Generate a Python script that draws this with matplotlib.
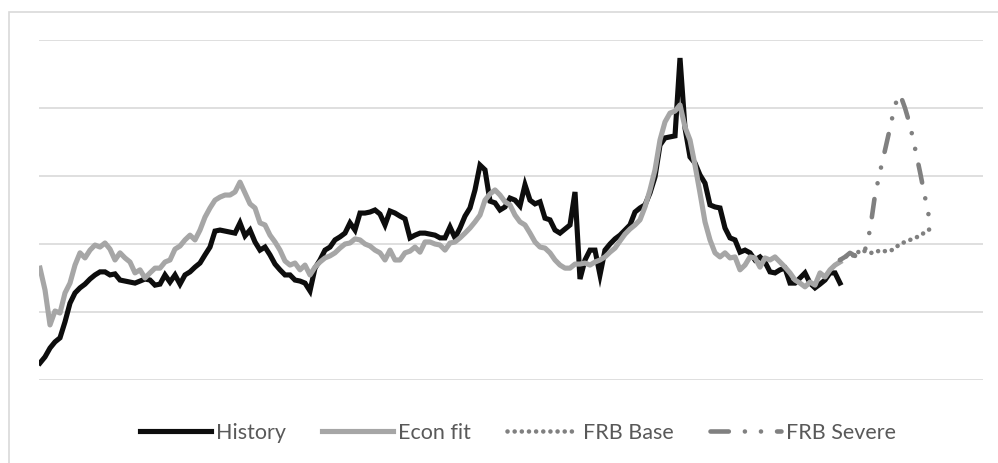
import numpy as np
import matplotlib
matplotlib.use("Agg")
import matplotlib.pyplot as plt
from matplotlib.patches import Rectangle

# History and model fit, one value per period
history = [
    0.50, 0.68, 0.94, 1.12, 1.24, 1.71, 2.26, 2.56, 2.71, 2.82,
    2.97, 3.09, 3.18, 3.18, 3.09, 3.12, 2.94, 2.91, 2.88, 2.85,
    2.91, 2.97, 2.94, 2.79, 2.82, 3.09, 2.88, 3.09, 2.82, 3.09,
    3.18, 3.32, 3.44, 3.68, 3.91, 4.38, 4.41, 4.38, 4.35, 4.32,
    4.62, 4.24, 4.41, 4.06, 3.82, 3.91, 3.68, 3.41, 3.24, 3.09,
    3.09, 2.94, 2.91, 2.85, 2.62, 3.29, 3.53, 3.82, 3.91, 4.12,
    4.21, 4.32, 4.62, 4.41, 4.91, 4.91, 4.94, 5.00, 4.88, 4.56,
    4.97, 4.91, 4.82, 4.74, 4.18, 4.26, 4.32, 4.32, 4.29, 4.26,
    4.18, 4.18, 4.50, 4.18, 4.47, 4.82, 5.06, 5.59, 6.32, 6.18,
    5.26, 5.21, 5.00, 5.09, 5.35, 5.29, 5.12, 5.74, 5.29, 5.18,
    5.24, 4.76, 4.71, 4.41, 4.32, 4.44, 4.56, 5.53, 2.97, 3.53,
    3.82, 3.82, 3.09, 3.82, 4.00, 4.15, 4.26, 4.41, 4.56, 4.94,
    5.06, 5.15, 5.50, 5.97, 6.91, 7.12, 7.15, 7.18, 9.47, 7.41,
    6.56, 6.38, 6.03, 5.79, 5.15, 5.09, 5.06, 4.47, 4.18, 4.12,
    3.76, 3.82, 3.74, 3.53, 3.62, 3.47, 3.18, 3.15, 3.24, 3.29,
    2.85, 2.85, 3.00, 3.15, 2.85, 2.71, 2.82, 2.94, 3.15, 3.15,
    2.85,
]

econ_fit = [
    3.29, 2.65, 1.62, 2.03, 1.97, 2.56, 2.85, 3.38, 3.74, 3.59,
    3.82, 3.97, 3.91, 4.03, 3.85, 3.53, 3.74, 3.59, 3.47, 3.15,
    3.24, 3.00, 3.15, 3.29, 3.29, 3.47, 3.53, 3.85, 3.94, 4.12,
    4.26, 4.12, 4.41, 4.79, 5.06, 5.29, 5.38, 5.44, 5.44, 5.53,
    5.82, 5.50, 5.18, 5.06, 4.62, 4.56, 4.26, 4.06, 3.82, 3.50,
    3.38, 3.44, 3.24, 3.38, 3.09, 3.32, 3.47, 3.59, 3.65, 3.74,
    3.88, 4.00, 4.03, 4.15, 4.12, 4.00, 3.94, 3.82, 3.74, 3.53,
    3.82, 3.53, 3.53, 3.74, 3.79, 3.91, 3.76, 4.06, 4.06, 4.00,
    3.97, 3.82, 4.03, 4.06, 4.18, 4.32, 4.47, 4.65, 4.85, 5.29,
    5.47, 5.59, 5.44, 5.24, 5.15, 4.85, 4.65, 4.56, 4.32, 4.06,
    3.91, 3.88, 3.74, 3.53, 3.38, 3.29, 3.29, 3.41, 3.41, 3.44,
    3.38, 3.47, 3.53, 3.62, 3.76, 3.88, 4.09, 4.29, 4.44, 4.56,
    4.71, 5.09, 5.59, 6.18, 7.06, 7.59, 7.85, 7.91, 8.09, 7.44,
    7.06, 6.32, 5.50, 4.65, 4.12, 3.74, 3.62, 3.74, 3.59, 3.62,
    3.24, 3.38, 3.62, 3.59, 3.32, 3.59, 3.53, 3.62, 3.47, 3.32,
    3.15, 2.94, 2.85, 2.74, 2.88, 2.79, 3.15, 3.03, 3.24, 3.38,
    3.47,
]

# Scenario projections, starting at the last history period
frb_base = [
    3.53, 3.62, 3.68, 3.65, 3.82, 3.79, 3.74, 3.74, 3.82, 3.79,
    3.79, 3.88, 4.00, 4.06, 4.12, 4.18, 4.24, 4.35, 4.44,
]
frb_severe = [
    3.53, 3.62, 3.74, 3.65, 3.88, 3.82, 4.41, 5.44, 6.12, 6.76,
    7.41, 8.09, 8.41, 8.00, 7.50, 6.82, 6.12, 5.38, 4.65,
]

labels = ["History", "Econ fit", "FRB Base", "FRB Severe"]

W, H = 998, 463
fig = plt.figure(figsize=(W / 100, H / 100), dpi=100)
plt.rcParams["font.family"] = ["Lato", "DejaVu Sans"]

# light chart-area frame
fig.patches.append(Rectangle((9 / W, -0.1), 1.2, 1 - 12 / H + 0.1,
                             transform=fig.transFigure, fill=False,
                             edgecolor="#d9d9d9", linewidth=1.2))

ax = fig.add_axes([39 / W, 83 / H, 944 / W, 340 / H])

x_hist = np.arange(len(history))
x_fc = np.arange(len(frb_base)) + len(history) - 1

lw = 3.7
ax.plot(x_hist, history, color="#0d0d0d", linewidth=lw, label=labels[0],
        solid_joinstyle="miter")
ax.plot(x_hist, econ_fit, color="#a6a6a6", linewidth=lw, label=labels[1])
ax.plot(x_fc, frb_severe, color="#808080", linewidth=3.3, label=labels[3],
        linestyle=(0, (4, 3.5, 0.01, 3.5, 0.01, 3.5)), dash_capstyle="round")
ax.plot(x_fc, frb_base, color="#808080", linewidth=3.3, label=labels[2],
        linestyle=(0, (0.01, 1.55)), dash_capstyle="round")

ax.set_xlim(-0.2, 188.6)
ax.set_ylim(0, 10)
ax.set_yticks(np.arange(0, 11, 2))
ax.set_xticks([])
ax.tick_params(left=False, labelleft=False)
ax.yaxis.grid(True, color="#d9d9d9", linewidth=1.2)
ax.set_axisbelow(True)
for s in ax.spines.values():
    s.set_visible(False)

handles, _ = ax.get_legend_handles_labels()
order = [0, 1, 3, 2]
leg = fig.legend([handles[i] for i in order], labels, loc="center",
                 bbox_to_anchor=(518 / W, 1 - 433 / H), ncol=4,
                 frameon=False, fontsize=15.5, handlelength=3.3,
                 handletextpad=0.25, columnspacing=1.65)
for t in leg.get_texts():
    t.set_color("#595959")

fig.savefig("out.png", dpi=100)
